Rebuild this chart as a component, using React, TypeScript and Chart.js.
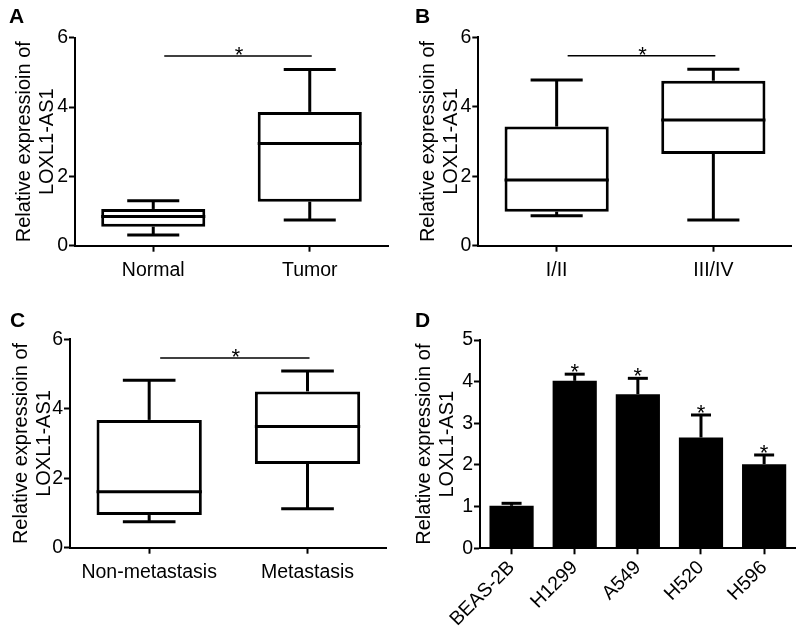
import React, { useEffect, useRef } from 'react';
import { Chart, registerables } from 'chart.js';

Chart.register(...registerables);

const FONT = "'Liberation Sans', Arial, Helvetica, sans-serif";

// ---------- data ----------
const yTitle = ['Relative expressioin of', 'LOXL1-AS1'];

// Panel A
const catsA = ['Normal', 'Tumor'];
const minA = [0.31, 0.74];
const q1A = [0.55, 1.27];
const medA = [0.84, 2.95];
const q3A = [1.06, 3.86];
const maxA = [1.3, 5.08];
const sigA = 5.47;

// Panel B
const catsB = ['I/II', 'III/IV'];
const minB = [0.86, 0.74];
const q1B = [0.98, 2.64];
const medB = [1.89, 3.62];
const q3B = [3.43, 4.75];
const maxB = [4.77, 5.08];
const sigB = 5.47;

// Panel C
const catsC = ['Non-metastasis', 'Metastasis'];
const minC = [0.75, 1.12];
const q1C = [0.94, 2.41];
const medC = [1.61, 3.49];
const q3C = [3.68, 4.5];
const maxC = [4.82, 5.09];
const sigC = 5.46;

// Panel D
const catsD = ['BEAS-2B', 'H1299', 'A549', 'H520', 'H596'];
const meanD = [1.02, 4.02, 3.7, 2.66, 2.02];
const errD = [0.06, 0.16, 0.38, 0.54, 0.22];
const starD = [false, true, true, true, true];

const boxYMax = 6;
const boxYStep = 2;
const barYMax = 5;
const barYStep = 1;

// ---------- helpers ----------
const W = 400;

function line(ctx: CanvasRenderingContext2D, x1: number, y1: number, x2: number, y2: number) {
  ctx.beginPath();
  ctx.moveTo(x1, y1);
  ctx.lineTo(x2, y2);
  ctx.stroke();
}

function letterPlugin(letter: string, lx: number, ly: number) {
  return {
    id: 'panelLetter',
    afterDraw(chart: any) {
      const ctx = chart.ctx;
      ctx.save();
      ctx.fillStyle = '#000';
      ctx.font = `bold 21px ${FONT}`;
      ctx.textAlign = 'left';
      ctx.textBaseline = 'alphabetic';
      ctx.fillText(letter, lx, ly);
      ctx.restore();
    },
  };
}

function boxPlugin(mins: number[], meds: number[], maxs: number[], q1s: number[], q3s: number[], sig: number) {
  return {
    id: 'boxExtras',
    afterDatasetsDraw(chart: any) {
      const ctx = chart.ctx as CanvasRenderingContext2D;
      const ys = chart.scales.y;
      const xs = chart.scales.x;
      const meta = chart.getDatasetMeta(0);
      ctx.save();
      ctx.strokeStyle = '#000';
      ctx.lineCap = 'butt';
      meta.data.forEach((el: any, i: number) => {
        const cx = el.x;
        const w = el.width;
        const yMin = ys.getPixelForValue(mins[i]);
        const yMax = ys.getPixelForValue(maxs[i]);
        const yMed = ys.getPixelForValue(meds[i]);
        const yQ1 = ys.getPixelForValue(q1s[i]);
        const yQ3 = ys.getPixelForValue(q3s[i]);
        ctx.lineWidth = 3;
        line(ctx, cx - w / 2, yMed, cx + w / 2, yMed);
        line(ctx, cx, yQ3, cx, yMax);
        line(ctx, cx, yQ1, cx, yMin);
        line(ctx, cx - w / 4, yMax, cx + w / 4, yMax);
        line(ctx, cx - w / 4, yMin, cx + w / 4, yMin);
      });
      const ySig = ys.getPixelForValue(sig);
      const x1 = xs.getPixelForValue(0) + 11;
      const x2 = xs.getPixelForValue(1) + 2;
      ctx.lineWidth = 1.5;
      line(ctx, x1, ySig, x2, ySig);
      ctx.fillStyle = '#000';
      ctx.font = `22px ${FONT}`;
      ctx.textAlign = 'center';
      ctx.textBaseline = 'alphabetic';
      ctx.fillText('*', (x1 + x2) / 2 + 1, ySig + 6);
      ctx.restore();
    },
  };
}

function errPlugin(means: number[], errs: number[], stars: boolean[]) {
  return {
    id: 'errBars',
    afterDatasetsDraw(chart: any) {
      const ctx = chart.ctx as CanvasRenderingContext2D;
      const ys = chart.scales.y;
      const meta = chart.getDatasetMeta(0);
      ctx.save();
      ctx.strokeStyle = '#000';
      ctx.fillStyle = '#000';
      meta.data.forEach((el: any, i: number) => {
        const cx = el.x;
        const yTop = ys.getPixelForValue(means[i]);
        const yCap = ys.getPixelForValue(means[i] + errs[i]);
        ctx.lineWidth = 3;
        line(ctx, cx, yTop, cx, yCap);
        line(ctx, cx - 10, yCap, cx + 10, yCap);
        if (stars[i]) {
          ctx.font = `22px ${FONT}`;
          ctx.textAlign = 'center';
          ctx.textBaseline = 'alphabetic';
          ctx.fillText('*', cx, yCap + 5);
        }
      });
      ctx.restore();
    },
  };
}

type Geo = { h: number; left: number; right: number; top: number; bottom: number; titlePad: number };

function xAxis(geo: Geo, extraTicks: any = {}) {
  return {
    offset: true,
    grid: {
      display: true,
      drawOnChartArea: false,
      drawTicks: true,
      tickLength: 6,
      tickWidth: 2,
      tickColor: '#000',
      offset: false,
    },
    border: { display: true, color: '#000', width: 2 },
    ticks: {
      color: '#000',
      font: { family: FONT, size: 19.5 },
      padding: 7,
      autoSkip: false,
      maxRotation: 0,
      minRotation: 0,
      ...extraTicks,
    },
    afterFit: (s: any) => {
      s.height = geo.h - geo.bottom;
    },
  };
}

function yAxis(geo: Geo, max: number, step: number) {
  return {
    min: 0,
    max,
    grid: {
      display: true,
      drawOnChartArea: false,
      drawTicks: true,
      tickLength: 6,
      tickWidth: 2,
      tickColor: '#000',
    },
    border: { display: true, color: '#000', width: 2 },
    ticks: {
      stepSize: step,
      color: '#000',
      font: { family: FONT, size: 19.5 },
      padding: 1,
    },
    title: {
      display: true,
      text: yTitle,
      color: '#000',
      font: { family: FONT, size: 20, lineHeight: 1.15 },
      padding: { top: geo.titlePad, bottom: 0 },
    },
    afterFit: (s: any) => {
      s.width = geo.left;
    },
  };
}

function boxConfig(
  cats: string[],
  mins: number[],
  q1s: number[],
  meds: number[],
  q3s: number[],
  maxs: number[],
  sig: number,
  geo: Geo,
  letter: string,
  lx: number,
  ly: number
): any {
  return {
    type: 'bar',
    data: {
      labels: cats,
      datasets: [
        {
          data: cats.map((_, i) => [q1s[i], q3s[i]]),
          backgroundColor: '#fff',
          borderColor: '#000',
          borderWidth: 3,
          borderSkipped: false,
          barPercentage: 0.665,
          categoryPercentage: 1,
        },
      ],
    },
    options: {
      responsive: false,
      animation: false,
      layout: { padding: { left: 0, top: geo.top, right: W - geo.right, bottom: 0 } },
      plugins: { legend: { display: false }, tooltip: { enabled: false } },
      scales: {
        x: xAxis(geo),
        y: yAxis(geo, boxYMax, boxYStep),
      },
    },
    plugins: [boxPlugin(mins, meds, maxs, q1s, q3s, sig), letterPlugin(letter, lx, ly)],
  };
}

function barConfig(geo: Geo, lx: number, ly: number): any {
  return {
    type: 'bar',
    data: {
      labels: catsD,
      datasets: [
        {
          data: meanD,
          backgroundColor: '#000',
          borderWidth: 0,
          barPercentage: 0.7,
          categoryPercentage: 1,
        },
      ],
    },
    options: {
      responsive: false,
      animation: false,
      layout: { padding: { left: 0, top: geo.top, right: W - geo.right, bottom: 0 } },
      plugins: { legend: { display: false }, tooltip: { enabled: false } },
      scales: {
        x: xAxis(geo, { maxRotation: 45, minRotation: 45, padding: 2 }),
        y: yAxis(geo, barYMax, barYStep),
      },
    },
    plugins: [errPlugin(meanD, errD, starD), letterPlugin('D', lx, ly)],
  };
}

function Panel({ make, x, y, h }: { make: () => any; x: number; y: number; h: number }) {
  const ref = useRef<HTMLCanvasElement>(null);
  useEffect(() => {
    const chart = new Chart(ref.current as HTMLCanvasElement, make());
    return () => chart.destroy();
  }, []);
  return (
    <canvas
      ref={ref}
      width={W}
      height={h}
      style={{ position: 'absolute', left: x, top: y, width: W, height: h }}
    />
  );
}

const TOP_H = 300;
const BOT_Y = 295;
const BOT_H = 335;

const geoA: Geo = { h: TOP_H, left: 75, right: 388, top: 37.7, bottom: 245.7, titlePad: 13 };
const geoB: Geo = { h: TOP_H, left: 78.3, right: 391.7, top: 37.3, bottom: 245.7, titlePad: 17 };
const geoC: Geo = { h: BOT_H, left: 70, right: 386.7, top: 339.3 - BOT_Y, bottom: 547.7 - BOT_Y, titlePad: 10 };
const geoD: Geo = { h: BOT_H, left: 80, right: 395.7, top: 340 - BOT_Y, bottom: 548.3 - BOT_Y, titlePad: 13 };

export default function App() {
  return (
    <div
      style={{
        position: 'fixed',
        left: 0,
        top: 0,
        width: 800,
        height: 630,
        background: '#fff',
        overflow: 'hidden',
      }}
    >
      <Panel make={() => boxConfig(catsA, minA, q1A, medA, q3A, maxA, sigA, geoA, 'A', 9, 23.3)} x={0} y={0} h={TOP_H} />
      <Panel make={() => boxConfig(catsB, minB, q1B, medB, q3B, maxB, sigB, geoB, 'B', 15, 23.3)} x={400} y={0} h={TOP_H} />
      <Panel make={() => boxConfig(catsC, minC, q1C, medC, q3C, maxC, sigC, geoC, 'C', 10, 327 - BOT_Y)} x={0} y={BOT_Y} h={BOT_H} />
      <Panel make={() => barConfig(geoD, 15, 326.7 - BOT_Y)} x={400} y={BOT_Y} h={BOT_H} />
    </div>
  );
}
